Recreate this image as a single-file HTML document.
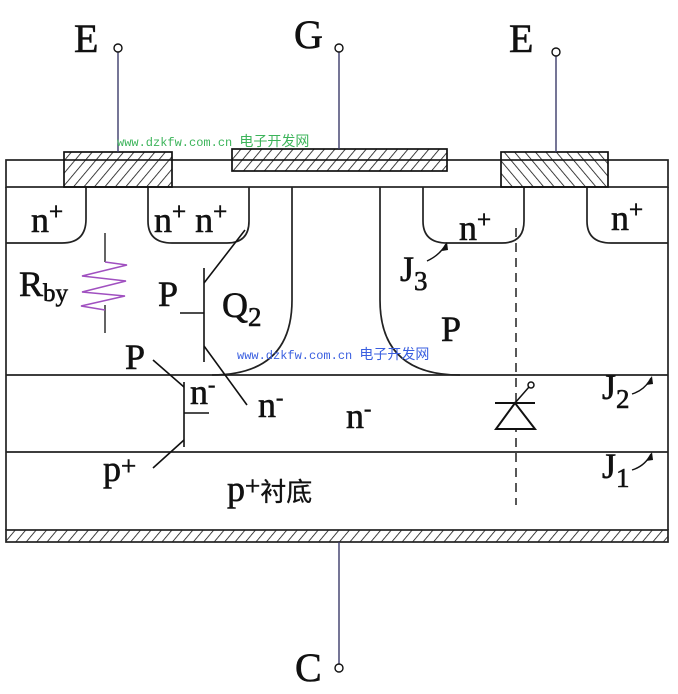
<!DOCTYPE html>
<html><head><meta charset="utf-8"><style>
html,body{margin:0;padding:0;background:#fff;}
svg{display:block;}
text{font-family:"Liberation Serif",serif;fill:#111;}
.lb text{stroke:#111;stroke-width:0.6;}
.wm{font-family:"Liberation Mono","Noto Sans CJK SC",monospace;font-size:12px;}
</style></head><body>
<svg width="678" height="694" viewBox="0 0 678 694" xmlns="http://www.w3.org/2000/svg">
<defs>
<pattern id="h1" width="8" height="8" patternUnits="userSpaceOnUse" patternTransform="rotate(40)"><line x1="0" y1="0" x2="0" y2="8" stroke="#111" stroke-width="1.6"/></pattern>
<pattern id="h2" width="8" height="8" patternUnits="userSpaceOnUse" patternTransform="rotate(-40)"><line x1="0" y1="0" x2="0" y2="8" stroke="#111" stroke-width="1.6"/></pattern>
</defs>
<g fill="none" stroke="#222" stroke-width="1.7">
<rect x="6" y="160" width="662" height="27"/>
<line x1="6" y1="187" x2="6" y2="530"/>
<line x1="668" y1="187" x2="668" y2="530"/>
<line x1="6" y1="375" x2="668" y2="375"/>
<line x1="6" y1="452" x2="668" y2="452"/>
<path d="M6 243 H62 Q86 243 86 219 V187"/>
<path d="M148 187 V221 Q148 243 172 243 H227 Q249 243 249 221 V187"/>
<path d="M423 187 V221 Q423 243 447 243 H502 Q524 243 524 221 V187"/>
<path d="M587 187 V221 Q587 243 611 243 H668"/>
<path d="M292 187 V300 Q292 375 212 375"/>
<path d="M380 187 V300 Q380 375 460 375"/>
</g>
<rect x="64" y="152" width="108" height="35" fill="url(#h1)" stroke="#111" stroke-width="1.7"/>
<rect x="232" y="149" width="215" height="22" fill="url(#h1)" stroke="#111" stroke-width="1.7"/>
<rect x="501" y="152" width="107" height="35" fill="url(#h2)" stroke="#111" stroke-width="1.7"/>
<rect x="6" y="530" width="662" height="12" fill="url(#h1)" stroke="#222" stroke-width="1.7"/>
<g stroke="#3a3a6a" stroke-width="1.4" fill="#fff">
<line x1="118" y1="52" x2="118" y2="152"/>
<line x1="339" y1="52" x2="339" y2="149"/>
<line x1="556" y1="56" x2="556" y2="152"/>
<line x1="339" y1="542" x2="339" y2="664"/>
</g>
<g stroke="#111" stroke-width="1.4" fill="#fff">
<circle cx="118" cy="48" r="4"/>
<circle cx="339" cy="48" r="4"/>
<circle cx="556" cy="52" r="4"/>
<circle cx="339" cy="668" r="4"/>
</g>
<line x1="516" y1="228" x2="516" y2="505" stroke="#111" stroke-width="1.4" stroke-dasharray="9,6"/>
<g stroke="#111" stroke-width="2" fill="none">
<line x1="495" y1="403" x2="535" y2="403"/>
<path d="M515 403 L496 429 H535 Z" fill="#fff"/>
<line x1="515" y1="403" x2="529" y2="387" stroke-width="1.5"/>
<circle cx="531" cy="385" r="3" stroke-width="1.5"/>
</g>
<g fill="none">
<line x1="105" y1="233" x2="105" y2="262" stroke="#222" stroke-width="1.4"/>
<line x1="105" y1="305" x2="105" y2="333" stroke="#222" stroke-width="1.4"/>
<path d="M105 262 L127 265 L82 276 L126 281 L82 292 L125 296 L81 306 L105 310" stroke="#a050c0" stroke-width="1.6"/>
</g>
<g stroke="#111" stroke-width="1.6" fill="none">
<line x1="204" y1="268" x2="204" y2="362"/>
<line x1="180" y1="313" x2="204" y2="313"/>
<line x1="204" y1="283" x2="245" y2="230"/>
<line x1="204" y1="346" x2="247" y2="405"/>
<line x1="184" y1="382" x2="184" y2="447"/>
<line x1="184" y1="413" x2="209" y2="413"/>
<line x1="153" y1="360" x2="184" y2="387"/>
<line x1="184" y1="440" x2="153" y2="468"/>
</g>
<g stroke="#111" stroke-width="1.4" fill="none">
<path d="M427 261 Q440 255 446 244"/>
<path d="M632 394 Q645 390 651 378"/>
<path d="M632 470 Q645 466 651 454"/>
</g>
<g fill="#111">
<path d="M447 242 L442 251 L448 250 Z"/>
<path d="M652 376 L646 385 L653 384 Z"/>
<path d="M652 452 L646 461 L653 460 Z"/>
</g>
<g class="lb">
<g font-size="40">
<text x="74" y="52">E</text>
<text x="294" y="48">G</text>
<text x="509" y="52">E</text>
<text x="295" y="681">C</text>
</g>
<g font-size="36">
<text x="31" y="232">n<tspan font-size="25" dy="-12">+</tspan></text>
<text x="154" y="232">n<tspan font-size="25" dy="-12">+</tspan><tspan dy="12"> n</tspan><tspan font-size="25" dy="-12">+</tspan></text>
<text x="459" y="240">n<tspan font-size="25" dy="-12">+</tspan></text>
<text x="611" y="230">n<tspan font-size="25" dy="-12">+</tspan></text>
<text x="19" y="296">R<tspan font-size="25" dy="5">by</tspan></text>
<text x="158" y="306">P</text>
<text x="222" y="317">Q<tspan font-size="27" dy="9">2</tspan></text>
<text x="125" y="369">P</text>
<text x="190" y="404">n<tspan font-size="22" dy="-12">-</tspan></text>
<text x="258" y="417">n<tspan font-size="22" dy="-12">-</tspan></text>
<text x="346" y="428">n<tspan font-size="22" dy="-12">-</tspan></text>
<text x="103" y="481">p<tspan font-size="27" dy="-6">+</tspan></text>
<text x="227" y="501">p<tspan font-size="27" dy="-6">+</tspan><tspan dy="6" font-family="'Noto Sans CJK SC',sans-serif" font-size="26" stroke-width="0.3">衬底</tspan></text>
<text x="400" y="281">J<tspan font-size="27" dy="9">3</tspan></text>
<text x="441" y="341">P</text>
<text x="602" y="399">J<tspan font-size="27" dy="9">2</tspan></text>
<text x="602" y="478">J<tspan font-size="27" dy="9">1</tspan></text>
</g>
</g>
<text class="wm" x="117" y="146" style="fill:#3cb45a">www.dzkfw.com.cn <tspan font-family="'Noto Sans CJK SC',sans-serif" font-size="14">电子开发网</tspan></text>
<text class="wm" x="237" y="359" style="fill:#3a5fe0">www.dzkfw.com.cn <tspan font-family="'Noto Sans CJK SC',sans-serif" font-size="14">电子开发网</tspan></text>
</svg>
</body></html>
